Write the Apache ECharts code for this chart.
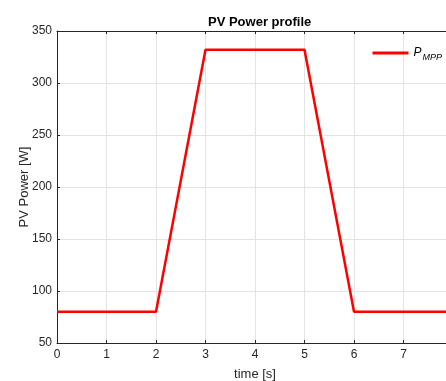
<!DOCTYPE html>
<html>
<head>
<meta charset="utf-8">
<script src="https://cdn.jsdelivr.net/npm/echarts@6/dist/echarts.min.js"></script>
<style>
  html, body { margin: 0; padding: 0; background: #fff; }
  #chart { width: 446px; height: 381px; }
</style>
</head>
<body>
<div id="chart"></div>
<script>
// PV power profile: piecewise-linear ramp up and down
const timeS = [0, 2, 3, 5, 6, 8];
const powerW = [80, 80, 332, 332, 80, 80];
const xTicks = [0, 1, 2, 3, 4, 5, 6, 7, 8];
const yTicks = [50, 100, 150, 200, 250, 300, 350];

const axisColor = '#262626';
const gridColor = '#e3e3e3';
const font = 'Liberation Sans, Arial, Helvetica, sans-serif';

const chart = echarts.init(document.getElementById('chart'), null, { renderer: 'canvas' });

chart.setOption({
  animation: false,
  backgroundColor: '#ffffff',
  title: {
    text: 'PV Power profile',
    left: 203,
    top: 11,
    textStyle: { fontFamily: font, fontSize: 13, fontWeight: 'bold', color: '#000' }
  },
  legend: {
    right: -1,
    top: 42,
    itemWidth: 36,
    itemHeight: 3,
    itemGap: 4,
    icon: 'rect',
    data: ['P_MPP'],
    formatter: () => '{p|P}{s|MPP}',
    textStyle: {
      fontFamily: font,
      color: '#000',
      rich: {
        p: { fontSize: 12, fontStyle: 'italic', fontFamily: font, color: '#000' },
        s: { fontSize: 9, fontStyle: 'italic', fontFamily: font, color: '#000', padding: [8, 0, 0, 1] }
      }
    }
  },
  grid: { left: 57, top: 31, width: 396, height: 312, containLabel: false, outerBoundsMode: 'none' },
  xAxis: [
    {
      type: 'value',
      min: xTicks[0],
      max: xTicks[xTicks.length - 1],
      interval: 1,
      name: 'time [s]',
      nameLocation: 'middle',
      nameGap: 25,
      nameMoveOverlap: false,
      nameTextStyle: { fontFamily: font, fontSize: 13, color: axisColor },
      axisLine: { show: true, lineStyle: { color: axisColor, width: 1 } },
      axisTick: { show: true, inside: true, length: 3, lineStyle: { color: axisColor } },
      axisLabel: { fontFamily: font, fontSize: 12, color: axisColor, margin: 6 },
      splitLine: { show: true, lineStyle: { color: gridColor, width: 1 } }
    },
    {
      type: 'value',
      position: 'top',
      min: xTicks[0],
      max: xTicks[xTicks.length - 1],
      interval: 1,
      axisLine: { show: true, onZero: false, lineStyle: { color: axisColor, width: 1 } },
      axisTick: { show: true, inside: true, length: 3, lineStyle: { color: axisColor } },
      axisLabel: { show: false },
      splitLine: { show: false }
    }
  ],
  yAxis: {
    type: 'value',
    min: yTicks[0],
    max: yTicks[yTicks.length - 1],
    interval: 50,
    name: 'PV Power [W]',
    nameLocation: 'middle',
    nameGap: 26,
    nameRotate: 90,
    nameMoveOverlap: false,
    nameTextStyle: { fontFamily: font, fontSize: 13, color: axisColor },
    axisLine: { show: true, lineStyle: { color: axisColor, width: 1 } },
    axisTick: { show: true, inside: true, length: 3, lineStyle: { color: axisColor } },
    axisLabel: { fontFamily: font, fontSize: 12, color: axisColor, margin: 5 },
    splitLine: { show: true, lineStyle: { color: gridColor, width: 1 } }
  },
  series: [{
    name: 'P_MPP',
    type: 'line',
    xAxisIndex: 0,
    data: timeS.map((t, i) => [t, powerW[i]]),
    showSymbol: false,
    symbol: 'none',
    lineStyle: { color: '#ff0000', width: 2.5 },
    itemStyle: { color: '#ff0000' }
  }]
});
</script>
</body>
</html>
